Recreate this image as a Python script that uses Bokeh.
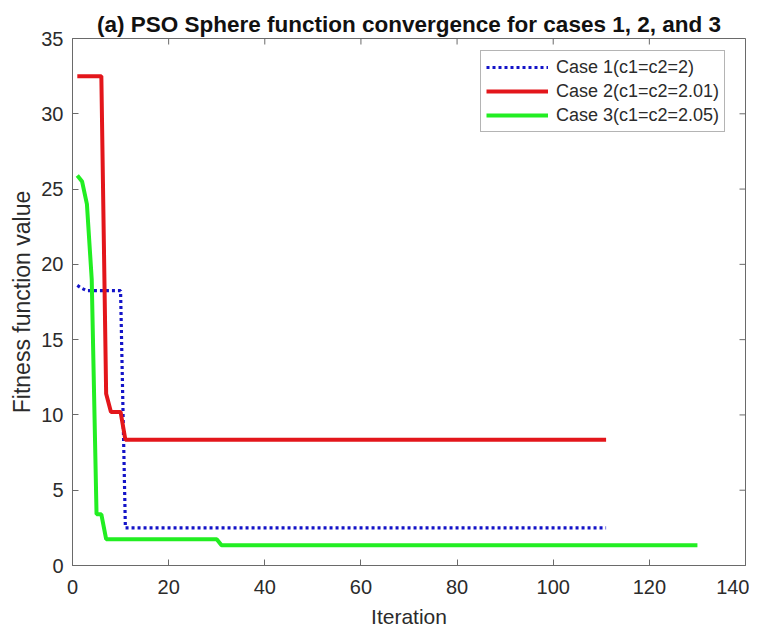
import math
from bokeh.plotting import figure
from bokeh.models import Range1d, SingleIntervalTicker, Legend, LegendItem
from bokeh.embed import file_html
from bokeh.resources import INLINE

# Data (iteration breakpoints and fitness values)
case1_iter = [1, 2, 3, 10, 11, 111]
case1_val = [18.6, 18.4, 18.25, 18.25, 2.5, 2.5]

case2_iter = [1, 6, 7, 8, 10, 11, 111]
case2_val = [32.5, 32.5, 11.4, 10.2, 10.2, 8.35, 8.35]

case3_iter = [1, 2, 3, 4, 5, 6, 7, 30, 31, 130]
case3_val = [25.9, 25.5, 24.0, 19.0, 3.4, 3.4, 1.75, 1.75, 1.35, 1.35]

labels = ["Case 1(c1=c2=2)", "Case 2(c1=c2=2.01)", "Case 3(c1=c2=2.05)"]
x_min, x_max, x_step = 0, 140, 20
y_min, y_max, y_step = 0, 35, 5
x_ticks = list(range(x_min, x_max + 1, x_step))
y_ticks = list(range(y_min, y_max + 1, y_step))

FONT = "Liberation Sans"
AX_COLOR = "#6a6a6a"
TXT_COLOR = "#2b2b2b"

p = figure(output_backend="svg", toolbar_location=None,
           x_range=Range1d(x_min, x_max), y_range=Range1d(y_min, y_max),
           frame_width=673, frame_height=527,
           min_border_left=72, min_border_right=4, min_border_top=38, min_border_bottom=51)

p.title.text = "(a) PSO Sphere function convergence for cases 1, 2, and 3"
p.title.text_font = FONT
p.title.text_font_size = "22.5px"
p.title.text_font_style = "bold"
p.title.text_color = "#111111"
p.title.align = "center"
p.title.standoff = 3
p.title.offset = 0

p.xgrid.visible = False
p.ygrid.visible = False
p.outline_line_color = AX_COLOR
p.outline_line_width = 1
p.background_fill_color = "white"
p.border_fill_color = "white"

def style_axis(ax, ticker_step):
    ax.ticker = SingleIntervalTicker(interval=ticker_step, num_minor_ticks=0)
    ax.axis_line_color = AX_COLOR
    ax.major_tick_line_color = AX_COLOR
    ax.major_tick_in = 6
    ax.major_tick_out = 0
    ax.minor_tick_line_color = None
    ax.major_label_text_font = FONT
    ax.major_label_text_color = TXT_COLOR
    ax.major_label_text_font_size = "20px"
    ax.axis_label_text_font = FONT
    ax.axis_label_text_color = TXT_COLOR
    ax.axis_label_text_font_style = "normal"

style_axis(p.xaxis[0], x_step)
style_axis(p.yaxis[0], y_step)
p.xaxis[0].axis_label = "Iteration"
p.xaxis[0].axis_label_text_font_size = "21px"
p.xaxis[0].major_label_standoff = 14
p.xaxis[0].axis_label_standoff = 8
p.yaxis[0].axis_label = "Fitness function value"
p.yaxis[0].axis_label_text_font_size = "23px"
p.yaxis[0].major_label_standoff = 9
p.yaxis[0].axis_label_standoff = 3

# Box ticks on top and right sides (Matlab style), in screen-length units
p.ray(x=x_ticks, y=[y_max] * len(x_ticks), length=6, length_units="screen",
      angle=-math.pi / 2, line_color=AX_COLOR, line_width=1)
p.ray(x=[x_max] * len(y_ticks), y=y_ticks, length=6, length_units="screen",
      angle=math.pi, line_color=AX_COLOR, line_width=1)

r1 = p.line(case1_iter, case1_val, line_color="#1414C8", line_width=3.2, line_dash="3 3")
r2 = p.line(case2_iter, case2_val, line_color="#E3161B", line_width=4)
r3 = p.line(case3_iter, case3_val, line_color="#22EE22", line_width=4)

legend = Legend(items=[LegendItem(label=labels[0], renderers=[r1]),
                       LegendItem(label=labels[1], renderers=[r2]),
                       LegendItem(label=labels[2], renderers=[r3])],
                location=(408, 433))
legend.margin = 0
legend.padding = 5
legend.spacing = 2
legend.glyph_width = 62
legend.glyph_height = 22
legend.label_height = 22
legend.label_standoff = 8
legend.label_text_font = FONT
legend.label_text_font_size = "18px"
legend.label_text_color = TXT_COLOR
legend.border_line_color = AX_COLOR
legend.border_line_width = 1
legend.background_fill_color = "white"
legend.background_fill_alpha = 1
p.add_layout(legend, "center")

open("out.html", "w").write(file_html(p, INLINE))
